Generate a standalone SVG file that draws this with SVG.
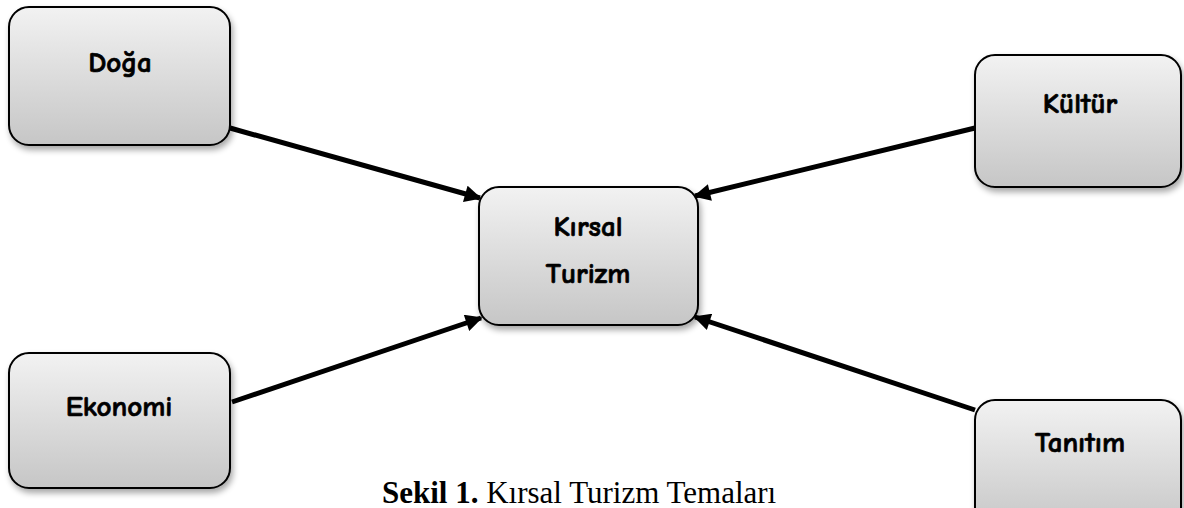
<svg xmlns="http://www.w3.org/2000/svg" width="1184" height="508" viewBox="0 0 1184 508">
<defs>
<linearGradient id="g" x1="0" y1="0" x2="0" y2="1">
<stop offset="0" stop-color="#f2f2f2"/>
<stop offset="1" stop-color="#c6c6c6"/>
</linearGradient>
<filter id="sh" x="-20%" y="-20%" width="140%" height="150%">
<feGaussianBlur in="SourceAlpha" stdDeviation="3"/>
<feOffset dx="2" dy="4" result="b"/>
<feComponentTransfer><feFuncA type="linear" slope="0.35"/></feComponentTransfer>
<feMerge><feMergeNode/><feMergeNode in="SourceGraphic"/></feMerge>
</filter>
<marker id="ah" viewBox="0 0 10 10" refX="9" refY="5" markerWidth="3.6" markerHeight="3.4" orient="auto" markerUnits="strokeWidth">
<path d="M0,0 L10,5 L0,10 z" fill="#000"/>
</marker>
<style>
.box{fill:url(#g);stroke:#000;stroke-width:2;filter:url(#sh)}
.lbl{font-family:"Comic Neue","Liberation Sans",sans-serif;font-weight:bold;font-size:29px;fill:#000;stroke:#000;stroke-width:0.7;text-anchor:middle}
.con{stroke:#000;stroke-width:5;fill:none;marker-end:url(#ah)}
.cap{font-family:"Liberation Serif",serif;font-size:31px;fill:#000}
</style>
</defs>
<g id="connectors">
<line class="con" x1="230" y1="128" x2="480" y2="198"/>
<line class="con" x1="975" y1="128" x2="695" y2="196"/>
<line class="con" x1="232" y1="402" x2="481" y2="318"/>
<line class="con" x1="975" y1="410" x2="695" y2="317"/>
</g>
<g id="doga">
<rect class="box" x="9" y="7" width="221" height="138" rx="20"/>
<text class="lbl" x="120" y="72">Doğa</text>
</g>
<g id="kirsal">
<rect class="box" x="479" y="187" width="219" height="138" rx="20"/>
<text class="lbl" x="588" y="236">Kırsal</text>
<text class="lbl" x="588" y="283">Turizm</text>
</g>
<g id="kultur">
<rect class="box" x="975" y="55" width="206" height="132" rx="20"/>
<text class="lbl" x="1080" y="113">Kültür</text>
</g>
<g id="ekonomi">
<rect class="box" x="9" y="353" width="221" height="135" rx="20"/>
<text class="lbl" x="119" y="416">Ekonomi</text>
</g>
<g id="tanitim">
<rect class="box" x="975" y="400" width="206" height="130" rx="20"/>
<text class="lbl" x="1080" y="452">Tanıtım</text>
</g>
<g id="caption">
<text class="cap" x="382" y="503"><tspan font-weight="bold">Sekil 1.</tspan> Kırsal Turizm Temaları</text>
</g>
</svg>
